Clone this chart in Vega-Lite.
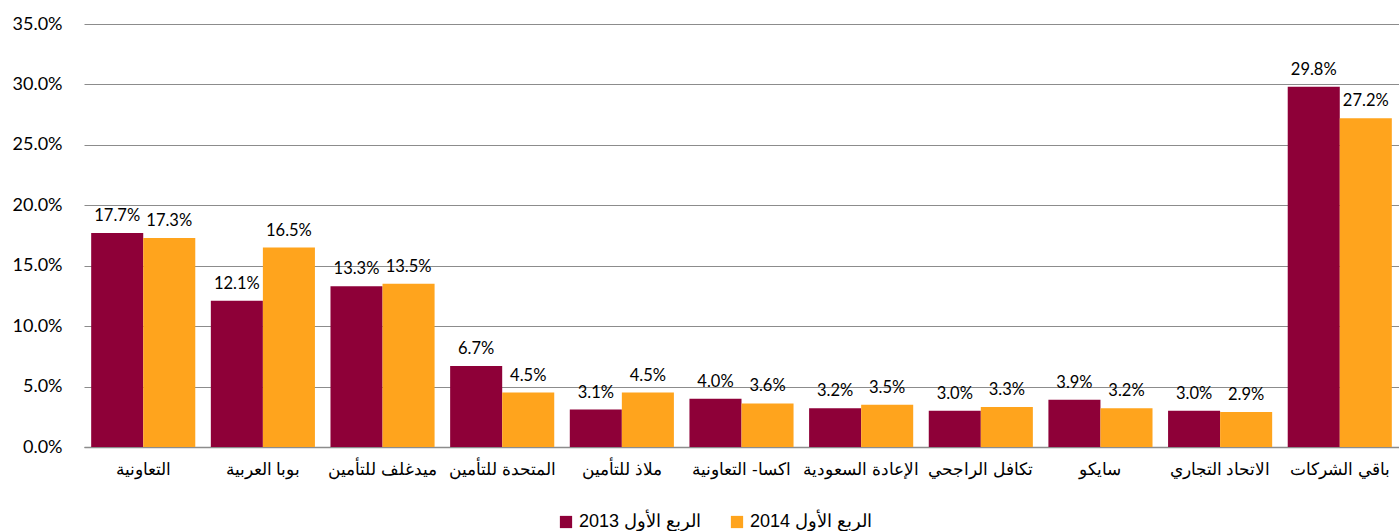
{
  "$schema": "https://vega.github.io/schema/vega-lite/v6.json",
  "autosize": {"type": "none"},
  "width": 1315,
  "height": 423,
  "padding": {"left": 84, "top": 24, "right": 0, "bottom": 84},
  "background": "white",
  "config": {
    "view": {"stroke": null},
    "axis": {"labelColor": "#000", "titleColor": "#000"}
  },
  "data": {
    "values": [
      {"company": "التعاونية", "period": "الربع الأول 2013", "share": 0.177},
      {"company": "التعاونية", "period": "الربع الأول 2014", "share": 0.173},
      {"company": "بوبا العربية", "period": "الربع الأول 2013", "share": 0.121},
      {"company": "بوبا العربية", "period": "الربع الأول 2014", "share": 0.165},
      {"company": "ميدغلف للتأمين", "period": "الربع الأول 2013", "share": 0.133},
      {"company": "ميدغلف للتأمين", "period": "الربع الأول 2014", "share": 0.135},
      {"company": "المتحدة للتأمين", "period": "الربع الأول 2013", "share": 0.067},
      {"company": "المتحدة للتأمين", "period": "الربع الأول 2014", "share": 0.045},
      {"company": "ملاذ للتأمين", "period": "الربع الأول 2013", "share": 0.031},
      {"company": "ملاذ للتأمين", "period": "الربع الأول 2014", "share": 0.045},
      {"company": "اكسا- التعاونية", "period": "الربع الأول 2013", "share": 0.040},
      {"company": "اكسا- التعاونية", "period": "الربع الأول 2014", "share": 0.036},
      {"company": "الإعادة السعودية", "period": "الربع الأول 2013", "share": 0.032},
      {"company": "الإعادة السعودية", "period": "الربع الأول 2014", "share": 0.035},
      {"company": "تكافل الراجحي", "period": "الربع الأول 2013", "share": 0.030},
      {"company": "تكافل الراجحي", "period": "الربع الأول 2014", "share": 0.033},
      {"company": "سايكو", "period": "الربع الأول 2013", "share": 0.039},
      {"company": "سايكو", "period": "الربع الأول 2014", "share": 0.032},
      {"company": "الاتحاد التجاري", "period": "الربع الأول 2013", "share": 0.030},
      {"company": "الاتحاد التجاري", "period": "الربع الأول 2014", "share": 0.029},
      {"company": "باقي الشركات", "period": "الربع الأول 2013", "share": 0.298},
      {"company": "باقي الشركات", "period": "الربع الأول 2014", "share": 0.272}
    ]
  },
  "encoding": {
    "x": {
      "field": "company",
      "type": "nominal",
      "sort": null,
      "scale": {"paddingInner": 0.13, "paddingOuter": 0.06},
      "axis": {
        "title": null,
        "labelAngle": 0,
        "labelFont": "Liberation Sans",
        "labelFontSize": 17,
        "labelPadding": 14,
        "ticks": false,
        "domainColor": "#8c8c8c",
        "domainWidth": 1.5,
        "grid": false
      }
    },
    "xOffset": {"field": "period", "type": "nominal", "sort": ["الربع الأول 2013", "الربع الأول 2014"]},
    "y": {
      "field": "share",
      "type": "quantitative",
      "scale": {"domain": [0, 0.35]},
      "axis": {
        "title": null,
        "format": ".1%",
        "values": [0, 0.05, 0.1, 0.15, 0.2, 0.25, 0.3, 0.35],
        "labelFont": "Lato",
        "labelFontSize": 18,
        "labelPadding": 22,
        "ticks": false,
        "domain": false,
        "grid": true,
        "gridColor": "#8c8c8c",
        "gridWidth": 1
      }
    }
  },
  "layer": [
    {
      "mark": {"type": "bar"},
      "encoding": {
        "color": {
          "field": "period",
          "type": "nominal",
          "sort": ["الربع الأول 2013", "الربع الأول 2014"],
          "scale": {"domain": ["الربع الأول 2013", "الربع الأول 2014"], "range": ["#8E0038", "#FFA41D"]},
          "legend": {
            "title": null,
            "orient": "none",
            "direction": "horizontal",
            "legendX": 473,
            "legendY": 489,
            "symbolType": "square",
            "symbolSize": 150,
            "symbolStrokeWidth": 0,
            "labelFont": "Liberation Sans",
            "labelFontSize": 18,
            "labelColor": "#000",
            "columnPadding": 26,
            "labelOffset": 4
          }
        }
      }
    },
    {
      "mark": {"type": "text", "baseline": "bottom", "dy": -9, "font": "Lato", "fontSize": 16.5, "color": "#000"},
      "encoding": {
        "text": {"field": "share", "type": "quantitative", "format": ".1%"}
      }
    }
  ]
}
